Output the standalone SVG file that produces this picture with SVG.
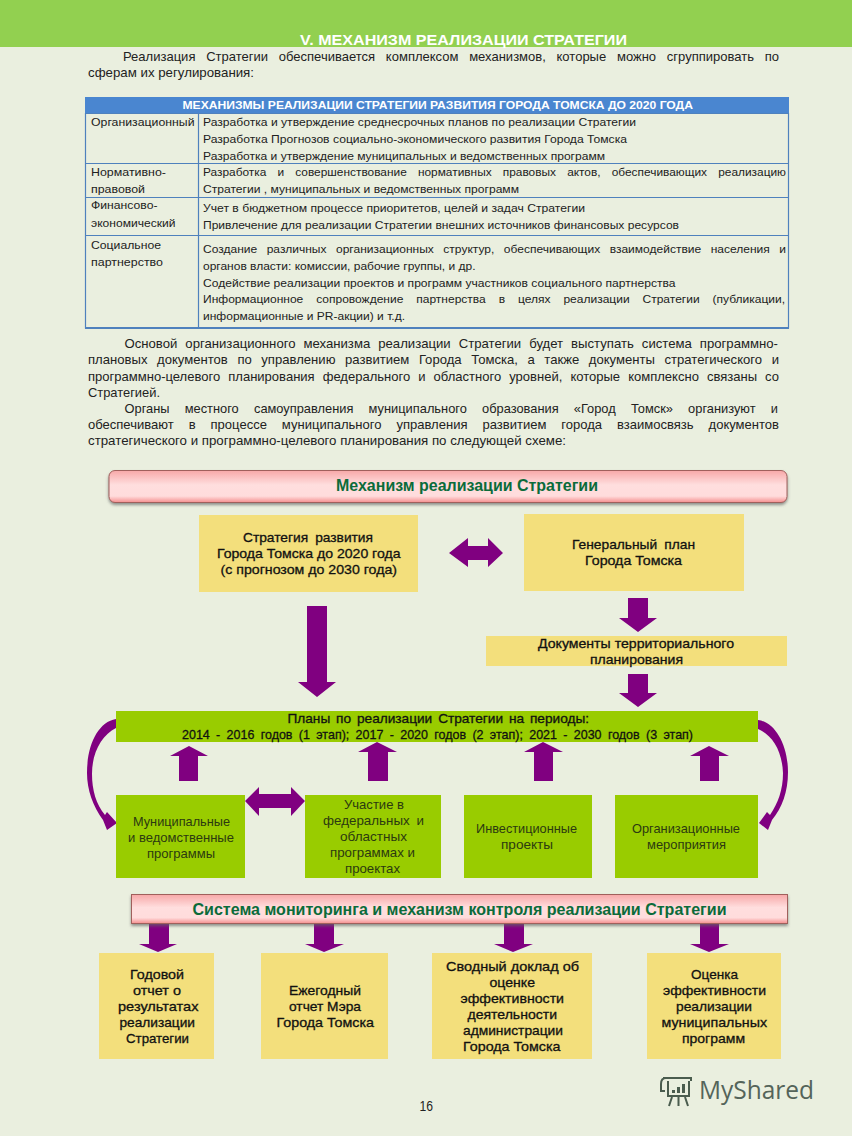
<svg xmlns="http://www.w3.org/2000/svg" width="852" height="1136" viewBox="0 0 852 1136">
<defs>
<linearGradient id="pink" x1="0" y1="0" x2="0" y2="1"><stop offset="0" stop-color="#f7a8a8"/><stop offset="0.45" stop-color="#ffdede"/><stop offset="0.8" stop-color="#ffdcdc"/><stop offset="1" stop-color="#f58f8f"/></linearGradient>
<filter id="sh" x="-2%" y="-20%" width="104%" height="150%"><feDropShadow dx="0" dy="2" stdDeviation="1.5" flood-color="#666" flood-opacity="0.7"/></filter>
</defs>
<style>
text{font-family:"Liberation Sans",Arial,sans-serif;fill:#222}
.b{font-size:13px}
.t{font-size:11.5px}
.n{font-size:13px;fill:#2c3a10}
.nb{font-size:13px;fill:#111;stroke:#111;stroke-width:.3}
.h{font-size:16px;font-weight:bold;fill:#0b6b3a}
.y{fill:#f3df7c}
.g{fill:#99cc00}
.a{fill:#800080}
.l{stroke:#4f81bd;stroke-width:1.2;fill:none}
</style>
<rect width="852" height="1136" fill="#eaefdf"/>
<rect width="852" height="47" fill="#92d050"/>
<text x="300" y="45" font-size="15.500" font-weight="bold" textLength="327" lengthAdjust="spacingAndGlyphs" style="fill:#fff">V. МЕХАНИЗМ РЕАЛИЗАЦИИ СТРАТЕГИИ</text>
<g id="intro">
<text class="b" x="123" y="61" textLength="656" lengthAdjust="spacingAndGlyphs" word-spacing="7.100">Реализация Стратегии обеспечивается комплексом механизмов, которые можно сгруппировать по</text>
<text class="b" x="88" y="77" textLength="166" lengthAdjust="spacingAndGlyphs">сферам их регулирования:</text>
</g>
<g id="table">
<rect x="85" y="97" width="704" height="16" fill="#4a86d0"/>
<text x="182.500" y="108.500" font-size="11.500" font-weight="bold" textLength="510.500" lengthAdjust="spacingAndGlyphs" style="fill:#fff">МЕХАНИЗМЫ РЕАЛИЗАЦИИ СТРАТЕГИИ РАЗВИТИЯ ГОРОДА ТОМСКА ДО 2020 ГОДА</text>
<path class="l" d="M85.500 113V328H788.500V113M198.500 113V328M85 113.500H789M85 163.500H789M85 197.500H789M85 235.500H789"/>
<path d="M85 328H789" stroke="#4f81bd" stroke-width="2"/>
<text class="t" x="91" y="126" textLength="103.500" lengthAdjust="spacingAndGlyphs">Организационный</text>
<text class="t" x="203" y="126" textLength="433" lengthAdjust="spacingAndGlyphs">Разработка и утверждение среднесрочных планов по реализации Стратегии</text>
<text class="t" x="203" y="143" textLength="424" lengthAdjust="spacingAndGlyphs">Разработка Прогнозов социально-экономического развития Города Томска</text>
<text class="t" x="203" y="159.500" textLength="402" lengthAdjust="spacingAndGlyphs">Разработка и утверждение муниципальных и ведомственных программ</text>
<text class="t" x="91" y="176" textLength="75" lengthAdjust="spacingAndGlyphs">Нормативно-</text>
<text class="t" x="91" y="193" textLength="54" lengthAdjust="spacingAndGlyphs">правовой</text>
<text class="t" x="203" y="176" textLength="583" lengthAdjust="spacingAndGlyphs" word-spacing="7.600">Разработка и совершенствование нормативных правовых актов, обеспечивающих реализацию</text>
<text class="t" x="203" y="193" textLength="316" lengthAdjust="spacingAndGlyphs">Стратегии , муниципальных и ведомственных программ</text>
<text class="t" x="91" y="209" textLength="66.500" lengthAdjust="spacingAndGlyphs">Финансово-</text>
<text class="t" x="91" y="227" textLength="84.500" lengthAdjust="spacingAndGlyphs">экономический</text>
<text class="t" x="203" y="212" textLength="382" lengthAdjust="spacingAndGlyphs">Учет в бюджетном процессе приоритетов, целей и задач Стратегии</text>
<text class="t" x="203" y="229" textLength="476" lengthAdjust="spacingAndGlyphs">Привлечение для реализации Стратегии внешних источников финансовых ресурсов</text>
<text class="t" x="91" y="249" textLength="70" lengthAdjust="spacingAndGlyphs">Социальное</text>
<text class="t" x="91" y="266" textLength="72" lengthAdjust="spacingAndGlyphs">партнерство</text>
<text class="t" x="203" y="253" textLength="583" lengthAdjust="spacingAndGlyphs" word-spacing="5.900">Создание различных организационных структур, обеспечивающих взаимодействие населения и</text>
<text class="t" x="203" y="270" textLength="272.500" lengthAdjust="spacingAndGlyphs">органов власти: комиссии, рабочие группы, и др.</text>
<text class="t" x="203" y="287" textLength="472.500" lengthAdjust="spacingAndGlyphs">Содействие реализации проектов и программ участников социального партнерства</text>
<text class="t" x="203" y="303" textLength="582" lengthAdjust="spacingAndGlyphs" word-spacing="9.200">Информационное сопровождение партнерства в целях реализации Стратегии (публикации,</text>
<text class="t" x="203" y="319.500" textLength="202" lengthAdjust="spacingAndGlyphs">информационные и PR-акции) и т.д.</text>
</g>
<g id="para">
<text class="b" x="124.500" y="348" textLength="653.500" lengthAdjust="spacingAndGlyphs" word-spacing="4.300">Основой организационного механизма реализации Стратегии будет выступать система программно-</text>
<text class="b" x="88" y="364" textLength="691" lengthAdjust="spacingAndGlyphs" word-spacing="5.900">плановых документов по управлению развитием Города Томска, а также документы стратегического и</text>
<text class="b" x="88" y="381" textLength="691" lengthAdjust="spacingAndGlyphs" word-spacing="4.400">программно-целевого планирования федерального и областного уровней, которые комплексно связаны со</text>
<text class="b" x="88" y="397" textLength="72" lengthAdjust="spacingAndGlyphs">Стратегией.</text>
<text class="b" x="124.500" y="413" textLength="653.500" lengthAdjust="spacingAndGlyphs" word-spacing="11.800">Органы местного самоуправления муниципального образования «Город Томск» организуют и</text>
<text class="b" x="88" y="429" textLength="691" lengthAdjust="spacingAndGlyphs" word-spacing="11.300">обеспечивают в процессе муниципального управления развитием города взаимосвязь документов</text>
<text class="b" x="88" y="445" textLength="478" lengthAdjust="spacingAndGlyphs">стратегического и программно-целевого планирования по следующей схеме:</text>
</g>
<g id="connectors">
<path class="a" d="M449 553L468 538V546H488V538L503 553L488 567V560H468V567Z"/>
<path class="a" d="M307 606H327V682H336L317 697L298 682H307Z"/>
<path class="a" d="M628 598H648V618H657L638 632L619 618H628Z"/>
<path class="a" d="M628 674H648V693H657L638 707L619 693H628Z"/>
<path class="a" d="M179 781V756H170L189 746L208 756H198V781Z"/>
<path class="a" d="M368 781V752H358L377 742L397 752H388V781Z"/>
<path class="a" d="M534 781V752H524L543 742L563 752H553V781Z"/>
<path class="a" d="M700 781V756H690L709 746L729 756H719V781Z"/>
<path class="a" d="M245 801L259 787V794H291V787L305 801L291 816V808H259V816Z"/>
<path class="a" d="M116 719C98 722 87 745 87 773C87 790 93 806 103 820L107 830L117 823L107 812L105 815C96 804 92 790 92 774C92 752 102 735 116 728Z"/>
<path class="a" d="M758 720C775 722 788 745 788 772C788 792 782 808 772 820L768 830L759 823L767 812L770 815C778 803 783 790 783 773C782 750 772 735 758 729Z"/>
<path class="a" d="M149 923H169V944H177L158 952L139 944H149Z"/>
<path class="a" d="M314 923H334V944H344L324 952L305 944H314Z"/>
<path class="a" d="M504 923H524V944H533L513 952L494 944H504Z"/>
<path class="a" d="M700 923H719V944H729L709 952L690 944H700Z"/>
</g>
<g id="n-header"><rect x="109" y="470.500" width="678" height="32" rx="6" fill="url(#pink)" stroke="#a0605c" filter="url(#sh)"/><text class="h" x="336" y="491" textLength="262" lengthAdjust="spacingAndGlyphs">Механизм реализации Стратегии</text></g>
<g id="n-strategy"><rect class="y" x="199" y="515" width="219" height="77"/><text class="nb" x="243" y="542" textLength="130" lengthAdjust="spacingAndGlyphs" word-spacing="3">Стратегия развития</text><text class="nb" x="217" y="558" textLength="183.500" lengthAdjust="spacingAndGlyphs">Города Томска до 2020 года</text><text class="nb" x="220.500" y="574" textLength="176.500" lengthAdjust="spacingAndGlyphs">(с прогнозом до 2030 года)</text></g>
<g id="n-genplan"><rect class="y" x="524" y="514" width="220" height="77"/><text class="nb" x="572" y="549" textLength="123" lengthAdjust="spacingAndGlyphs" word-spacing="3">Генеральный план</text><text class="nb" x="585" y="565" textLength="97" lengthAdjust="spacingAndGlyphs">Города Томска</text></g>
<g id="n-docs"><rect class="y" x="486" y="636" width="301" height="30"/><text class="nb" x="538" y="648" textLength="196" lengthAdjust="spacingAndGlyphs">Документы территориального</text><text class="nb" x="590" y="664" textLength="93" lengthAdjust="spacingAndGlyphs">планирования</text></g>
<g id="n-plans"><rect class="g" x="116" y="711" width="642" height="31"/><text class="nb" x="287.500" y="723" textLength="301.500" lengthAdjust="spacingAndGlyphs" word-spacing="2">Планы по реализации Стратегии на периоды:</text><text class="nb" x="182" y="739" textLength="511" lengthAdjust="spacingAndGlyphs" word-spacing="3">2014 - 2016 годов (1 этап); 2017 - 2020 годов (2 этап); 2021 - 2030 годов (3 этап)</text></g>
<g id="n-municipal"><rect class="g" x="116" y="795" width="129" height="83"/><text class="n" x="133" y="826" textLength="97" lengthAdjust="spacingAndGlyphs">Муниципальные</text><text class="n" x="128" y="842" textLength="106" lengthAdjust="spacingAndGlyphs">и ведомственные</text><text class="n" x="147" y="858" textLength="68" lengthAdjust="spacingAndGlyphs">программы</text></g>
<g id="n-federal"><rect class="g" x="305" y="795" width="136" height="83"/><text class="n" x="344" y="809" textLength="60" lengthAdjust="spacingAndGlyphs">Участие в</text><text class="n" x="323" y="825" textLength="101" lengthAdjust="spacingAndGlyphs" word-spacing="3">федеральных и</text><text class="n" x="340" y="841" textLength="67" lengthAdjust="spacingAndGlyphs">областных</text><text class="n" x="330" y="857" textLength="85" lengthAdjust="spacingAndGlyphs">программах и</text><text class="n" x="345" y="873" textLength="55" lengthAdjust="spacingAndGlyphs">проектах</text></g>
<g id="n-invest"><rect class="g" x="464" y="795" width="128" height="83"/><text class="n" x="476" y="833" textLength="101" lengthAdjust="spacingAndGlyphs">Инвестиционные</text><text class="n" x="501" y="849" textLength="52" lengthAdjust="spacingAndGlyphs">проекты</text></g>
<g id="n-org"><rect class="g" x="615" y="795" width="143" height="83"/><text class="n" x="632" y="833" textLength="108" lengthAdjust="spacingAndGlyphs">Организационные</text><text class="n" x="647" y="849" textLength="79" lengthAdjust="spacingAndGlyphs">мероприятия</text></g>
<g id="n-monitor"><rect x="131.500" y="894.500" width="656" height="29" fill="url(#pink)" stroke="#a0605c" filter="url(#sh)"/><text class="h" x="192.500" y="915" textLength="534" lengthAdjust="spacingAndGlyphs">Система мониторинга и механизм контроля реализации Стратегии</text></g>
<g id="n-r1"><rect class="y" x="99" y="953" width="115" height="106"/><text class="nb" x="130" y="979" textLength="54" lengthAdjust="spacingAndGlyphs">Годовой</text><text class="nb" x="133" y="995" textLength="48" lengthAdjust="spacingAndGlyphs">отчет о</text><text class="nb" x="118" y="1011" textLength="80.500" lengthAdjust="spacingAndGlyphs">результатах</text><text class="nb" x="119.500" y="1027" textLength="75.500" lengthAdjust="spacingAndGlyphs">реализации</text><text class="nb" x="126" y="1043" textLength="63" lengthAdjust="spacingAndGlyphs">Стратегии</text></g>
<g id="n-r2"><rect class="y" x="261" y="953" width="127" height="106"/><text class="nb" x="289" y="995" textLength="72" lengthAdjust="spacingAndGlyphs">Ежегодный</text><text class="nb" x="289" y="1011" textLength="72" lengthAdjust="spacingAndGlyphs">отчет Мэра</text><text class="nb" x="276.500" y="1027" textLength="97.500" lengthAdjust="spacingAndGlyphs">Города Томска</text></g>
<g id="n-r3"><rect class="y" x="432" y="953" width="160" height="106"/><text class="nb" x="446" y="971" textLength="133" lengthAdjust="spacingAndGlyphs">Сводный доклад об</text><text class="nb" x="489.500" y="987" textLength="45.500" lengthAdjust="spacingAndGlyphs">оценке</text><text class="nb" x="460.500" y="1003" textLength="103.500" lengthAdjust="spacingAndGlyphs">эффективности</text><text class="nb" x="467.500" y="1019" textLength="89.500" lengthAdjust="spacingAndGlyphs">деятельности</text><text class="nb" x="463" y="1035" textLength="100" lengthAdjust="spacingAndGlyphs">администрации</text><text class="nb" x="463" y="1051" textLength="97.500" lengthAdjust="spacingAndGlyphs">Города Томска</text></g>
<g id="n-r4"><rect class="y" x="647" y="953" width="134" height="106"/><text class="nb" x="691" y="979" textLength="47" lengthAdjust="spacingAndGlyphs">Оценка</text><text class="nb" x="663" y="995" textLength="103" lengthAdjust="spacingAndGlyphs">эффективности</text><text class="nb" x="676" y="1011" textLength="76" lengthAdjust="spacingAndGlyphs">реализации</text><text class="nb" x="661.500" y="1027" textLength="105.500" lengthAdjust="spacingAndGlyphs">муниципальных</text><text class="nb" x="682" y="1043" textLength="63" lengthAdjust="spacingAndGlyphs">программ</text></g>
<text x="419.500" y="1111" font-size="14" textLength="13.500" lengthAdjust="spacingAndGlyphs">16</text>
<g id="logo">
<path d="M663 1078H691V1081M666 1078C662 1078 661 1081 661 1084V1091H665M668 1081V1096H689V1081M672 1097L669 1106M685 1097L688 1106M678.500 1097V1106" fill="none" stroke="#4a5c4e" stroke-width="2"/>
<path d="M672 1090h3v3h-3zM677 1087h3v6h-3zM682 1084h3v9h-3z" fill="#4a5c4e"/>
<text x="699" y="1099" font-size="25" textLength="115" lengthAdjust="spacingAndGlyphs" style="font-family:'Open Sans','Noto Sans',sans-serif;fill:#54645a">MyShared</text>
</g>
</svg>
